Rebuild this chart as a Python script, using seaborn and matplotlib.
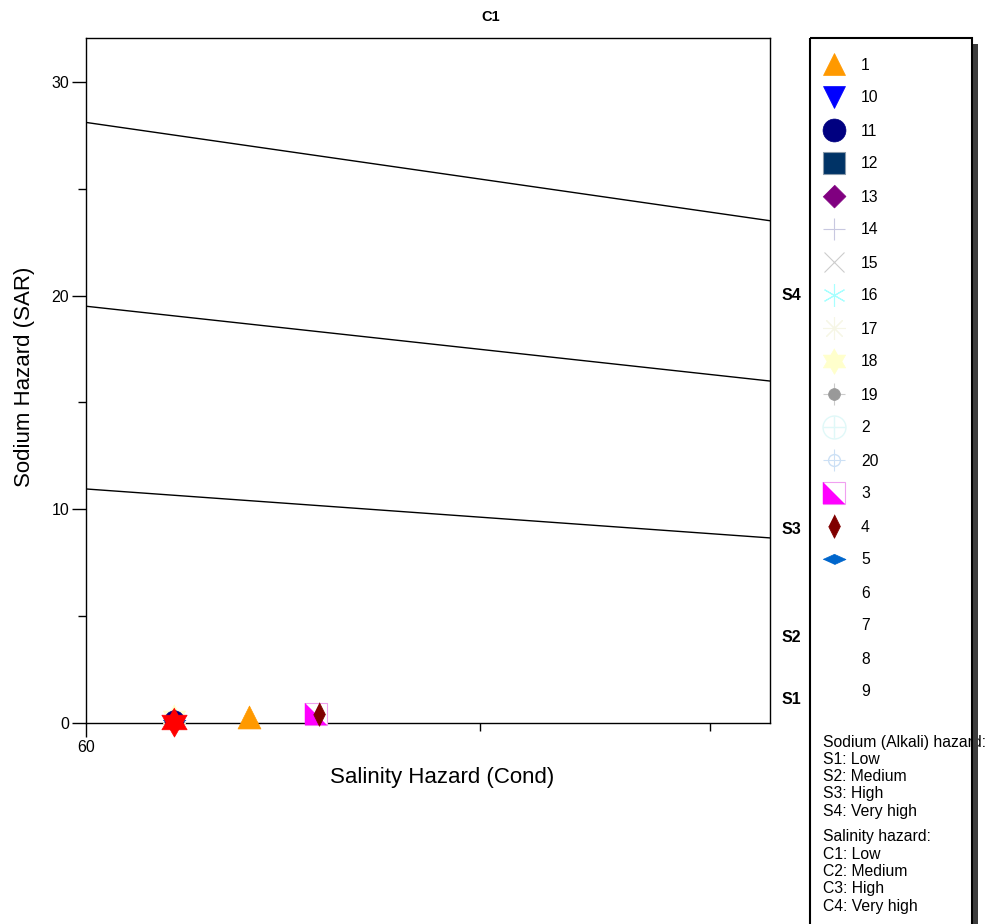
import matplotlib
matplotlib.use("Agg")
import matplotlib.pyplot as plt
from matplotlib.patches import Rectangle
from matplotlib.transforms import blended_transform_factory
import numpy as np
import pandas as pd
import seaborn as sns

# ---------------- data ----------------
pt_group = ["18", "11", "5", "6", "1", "3", "4"]
pt_ec = [70, 70, 70, 70, 80, 90, 90.5]
pt_sar = [0.30, 0.15, 0.15, 0.07, 0.30, 0.40, 0.40]

line_ec = [60, 200]
s1_s2 = [10.95, 8.66]
s2_s3 = [19.5, 16.0]
s3_s4 = [28.1, 23.5]

legend_labels = ["1", "10", "11", "12", "13", "14", "15", "16", "17", "18",
                 "19", "2", "20", "3", "4", "5", "6", "7", "8", "9"]

s_labels = ["S4", "S3", "S2", "S1"]
s_label_sar = [20.0, 9.05, 4.0, 1.08]

x_major = [60]
x_major_labels = ["60"]
x_minor = [120, 180]
y_major = [0, 10, 20, 30]
y_minor = [5, 15, 25]

hazard_lines = ["Sodium (Alkali) hazard:", "S1: Low", "S2: Medium", "S3: High", "S4: Very high"]
salinity_lines = ["Salinity hazard:", "C1: Low", "C2: Medium", "C3: High", "C4: Very high"]

# ---------------- marker shapes ----------------
diamond = [(0, 1), (1, 0), (0, -1), (-1, 0)]
thin_diamond = [(0, 1), (0.5, 0), (0, -1), (-0.5, 0)]
flat_diamond = [(-1, 0), (0, 0.45), (1, 0), (0, -0.45)]
half_tri = [(-1, 1), (-1, -1), (1, -1)]
_ang = np.deg2rad(90 + 30 * np.arange(12))
_rad = np.where(np.arange(12) % 2 == 0, 1.0, 0.577)
hexagram = list(zip(_rad * np.cos(_ang), _rad * np.sin(_ang)))

# each style: list of layers (marker, size_pt, facecolor, edgecolor, lw)
styles = {
    "1":  [("^", 16.5, "#FF9900", "#FF9900", 0.5)],
    "10": [("v", 16.5, "#0000FF", "#0000FF", 0.5)],
    "11": [("o", 16.5, "#000080", "#000080", 0.5)],
    "12": [("s", 16.5, "#003366", "#8899AA", 0.8)],
    "13": [(diamond, 16.5, "#800080", "#800080", 0.5)],
    "14": [("+", 16.5, "none", "#C8C8E0", 0.8)],
    "15": [("x", 14.0, "none", "#CCCCCC", 0.8)],
    "16": [((6, 2, 0), 16.5, "none", "#A8FFFF", 0.8)],
    "17": [((8, 2, 0), 16.5, "none", "#F6F6E6", 0.8)],
    "18": [(hexagram, 18.5, "#FFFFCC", "#FFFFCC", 0.5)],
    "19": [("+", 16.5, "none", "#CCCCCC", 0.8), ("o", 8.5, "#999999", "#999999", 0.5)],
    "2":  [("o", 16.5, "none", "#E0F8F8", 1.0), ("+", 16.5, "none", "#E0F8F8", 1.0)],
    "20": [("+", 16.5, "none", "#CCE0F5", 0.8), ("o", 8.5, "none", "#CCE0F5", 1.0)],
    "3":  [("s", 16.5, "white", "#F0A0F0", 0.8), (half_tri, 16.5, "#FF00FF", "#FF00FF", 0.3)],
    "4":  [(thin_diamond, 17.0, "#800000", "#800000", 0.5)],
    "5":  [(flat_diamond, 16.5, "#0066CC", "#0066CC", 0.5)],
    "6":  [(hexagram, 21.0, "#FF0000", "#FF0000", 0.5)],
    "7":  [],
    "8":  [],
    "9":  [],
}
legend_styles = dict(styles)
legend_styles["6"] = []
point_styles = dict(styles)
point_styles["11"] = [("o", 14.0, "#000080", "#000080", 0.5)]

# ---------------- figure ----------------
sns.set_theme(style="ticks")
plt.rcParams["font.family"] = ["Liberation Sans", "DejaVu Sans"]

W, H = 992, 924
fig = plt.figure(figsize=(W / 100, H / 100), dpi=100)
fig.patch.set_facecolor("white")

def fx(px):
    return px / W

def fy(py):
    return 1 - py / H

ax = fig.add_axes([fx(86), fy(723), fx(770) - fx(86), fy(38) - fy(723)])
ax.set_facecolor("white")
ax.set_xscale("log")

lines_df = pd.DataFrame({"ec": line_ec * 3,
                         "sar": s1_s2 + s2_s3 + s3_s4,
                         "line": ["a", "a", "b", "b", "c", "c"]})
for name in ["a", "b", "c"]:
    sns.lineplot(data=lines_df[lines_df["line"] == name], x="ec", y="sar",
                 color="black", linewidth=1.0, ax=ax, legend=False, zorder=2)

pts = pd.DataFrame({"ec": pt_ec, "sar": pt_sar, "group": pt_group})
z = 3
for g in pt_group:
    sub = pts[pts["group"] == g]
    for (mk, sz, fc, ec, lw) in point_styles[g]:
        sns.scatterplot(data=sub, x="ec", y="sar", marker=mk, s=sz ** 2,
                        color=fc if fc != "none" else ec, facecolor=fc,
                        edgecolor=ec, linewidth=lw, ax=ax, legend=False,
                        zorder=z, clip_on=False)
        z += 0.1

ax.set_xlim(60, 200)
ax.set_ylim(0, 32.05)
ax.xaxis.set_major_locator(matplotlib.ticker.FixedLocator(x_major))
ax.xaxis.set_major_formatter(matplotlib.ticker.FixedFormatter(x_major_labels))
ax.xaxis.set_minor_locator(matplotlib.ticker.FixedLocator(x_minor))
ax.xaxis.set_minor_formatter(matplotlib.ticker.NullFormatter())
ax.set_yticks(y_major)
ax.set_yticklabels([str(v) for v in y_major])
ax.yaxis.set_minor_locator(matplotlib.ticker.FixedLocator(y_minor))
ax.tick_params(which="major", direction="out", length=10, width=1, colors="black",
               labelsize=11.5, pad=2)
ax.tick_params(which="minor", direction="out", length=5.5, width=1, colors="black")
ax.set_xlabel("")
ax.set_ylabel("")
for sp in ax.spines.values():
    sp.set_visible(True)
    sp.set_color("black")
    sp.set_linewidth(1.0)

trans = blended_transform_factory(ax.transAxes, ax.transData)
for lab, yv in zip(s_labels, s_label_sar):
    ax.text(1 + (782 - 770) / 684, yv, lab, transform=trans, ha="left", va="center",
            fontsize=11.5, fontweight="bold", color="black")

fig.text(fx(491), fy(17), "C1", ha="center", va="center", fontsize=10.5,
         fontweight="bold", color="black")
fig.text(fx(442), fy(778), "Salinity Hazard (Cond)", ha="center", va="center",
         fontsize=16, color="black")
fig.text(fx(25), fy(377), "Sodium Hazard (SAR)", ha="center", va="center",
         rotation=90, fontsize=16, color="black")

# ---------------- legend panel ----------------
lax = fig.add_axes([0, 0, 1, 1], facecolor="none")
lax.set_xlim(0, W)
lax.set_ylim(H, 0)
lax.axis("off")
lax.add_patch(Rectangle((816, 44), 162, 900, facecolor="#3C3C3C", edgecolor="none", zorder=4))
lax.add_patch(Rectangle((810, 38), 162, 900, facecolor="white", edgecolor="none", zorder=5))
lax.add_patch(Rectangle((810, 38), 162, 900, facecolor="none", edgecolor="black",
                        linewidth=1.5, zorder=8))
lax.add_patch(Rectangle((973, 44), 5, 900, facecolor="#3C3C3C", edgecolor="none", zorder=8))

for i, lab in enumerate(legend_labels):
    yy = 64 + 33 * i
    for (mk, sz, fc, ec, lw) in legend_styles[lab]:
        lax.plot([834], [yy], linestyle="none", marker=mk, markersize=sz,
                 markerfacecolor=fc, markeredgecolor=ec, markeredgewidth=lw, zorder=6)
    lax.text(861, yy + 1, lab, ha="left", va="center", fontsize=11.3, color="black", zorder=6)

for i, t in enumerate(hazard_lines):
    lax.text(823, 742 + 17.3 * i, t, ha="left", va="center", fontsize=11.3,
             color="black", zorder=6)
for i, t in enumerate(salinity_lines):
    lax.text(823, 837 + 17.3 * i, t, ha="left", va="center", fontsize=11.3,
             color="black", zorder=6)

fig.savefig("out.png", dpi=100, facecolor="white")
